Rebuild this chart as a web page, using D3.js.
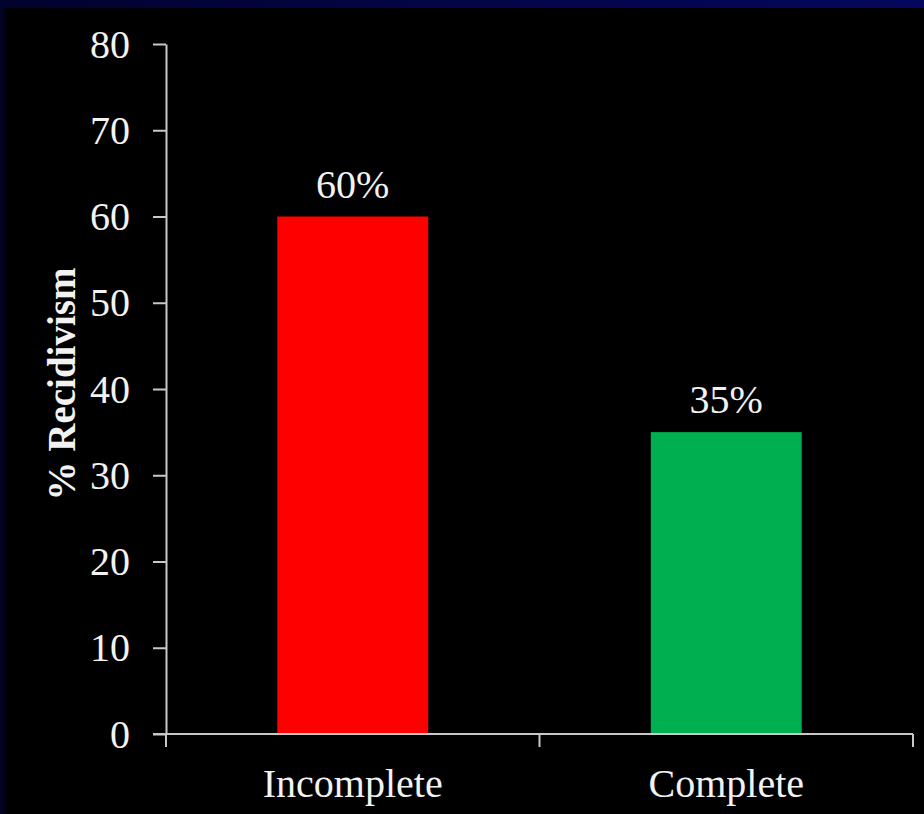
<!DOCTYPE html>
<html>
<head>
<meta charset="utf-8">
<script src="https://cdn.jsdelivr.net/npm/d3@7"></script>
<style>
  html, body { margin: 0; padding: 0; background: #000; }
  svg { display: block; }
</style>
</head>
<body>
<script>
const categories = ["Incomplete", "Complete"];
const values = [60, 35];
const valueLabels = ["60%", "35%"];
const barColors = ["#ff0000", "#00b050"];
const yTicks = [0, 10, 20, 30, 40, 50, 60, 70, 80];
const yTitle = "% Recidivism";

(function () {
const W = 924, H = 814;
const svg = d3.select("body").append("svg").attr("width", W).attr("height", H);

const defs = svg.append("defs");
const lg = defs.append("linearGradient").attr("id", "leftBand").attr("x1", 0).attr("x2", 1);
lg.append("stop").attr("offset", 0).attr("stop-color", "#04042a");
lg.append("stop").attr("offset", 1).attr("stop-color", "#000000");
const tg = defs.append("linearGradient").attr("id", "topBand").attr("x1", 0).attr("x2", 1);
tg.append("stop").attr("offset", 0).attr("stop-color", "#02022e");
tg.append("stop").attr("offset", 1).attr("stop-color", "#05075e");

svg.append("rect").attr("width", W).attr("height", H).attr("fill", "#000");
svg.append("rect").attr("x", 0).attr("y", 0).attr("width", 9).attr("height", H).attr("fill", "url(#leftBand)");
svg.append("rect").attr("x", 0).attr("y", 0).attr("width", W).attr("height", 8).attr("fill", "url(#topBand)");

const mLeft = 166, mRight = 913, mTop = 44, mBottom = 734;
const x = d3.scaleBand().domain(categories).range([mLeft, mRight]).padding(0);
const y = d3.scaleLinear().domain([0, 80]).range([mBottom, mTop]);
const barFrac = 0.404;

const axisColor = "#c8c8c8";
const textColor = "#f2f2f2";
const font = "'Liberation Serif', 'Times New Roman', serif";

// bars
svg.selectAll(".bar").data(values).enter().append("rect")
  .attr("x", (d, i) => x(categories[i]) + x.bandwidth() * (1 - barFrac) / 2)
  .attr("width", x.bandwidth() * barFrac)
  .attr("y", d => y(d))
  .attr("height", d => y(0) - y(d))
  .attr("fill", (d, i) => barColors[i]);

// y axis
const yAxis = svg.append("g").attr("transform", `translate(${mLeft},0)`)
  .call(d3.axisLeft(y).tickValues(yTicks).tickSize(13).tickPadding(23).tickSizeOuter(0));
yAxis.select(".domain").attr("stroke", axisColor).attr("stroke-width", 2);
yAxis.selectAll(".tick line").attr("stroke", axisColor).attr("stroke-width", 2);
yAxis.selectAll(".tick text").attr("fill", textColor).attr("font-family", font).attr("font-size", 40).attr("dy", "0.33em");

// x axis: ticks at band boundaries
const xAxisG = svg.append("g").attr("transform", `translate(0,${mBottom})`);
xAxisG.append("line").attr("x1", mLeft - 13).attr("x2", mRight).attr("y1", 0).attr("y2", 0)
  .attr("stroke", axisColor).attr("stroke-width", 2);
const boundaries = categories.map(c => x(c)).concat([x(categories[categories.length - 1]) + x.bandwidth()]);
xAxisG.selectAll(".xt").data(boundaries).enter().append("line")
  .attr("x1", d => d).attr("x2", d => d).attr("y1", 0).attr("y2", 13)
  .attr("stroke", axisColor).attr("stroke-width", 2);
xAxisG.selectAll(".xl").data(categories).enter().append("text")
  .attr("x", d => x(d) + x.bandwidth() / 2)
  .attr("y", 63)
  .attr("text-anchor", "middle")
  .attr("fill", textColor).attr("font-family", font).attr("font-size", 40)
  .text(d => d);

// value labels
svg.selectAll(".vl").data(values).enter().append("text")
  .attr("x", (d, i) => x(categories[i]) + x.bandwidth() / 2)
  .attr("y", d => y(d) - 19)
  .attr("text-anchor", "middle")
  .attr("fill", textColor).attr("font-family", font).attr("font-size", 40)
  .text((d, i) => valueLabels[i]);

// y title
svg.append("text")
  .attr("transform", `translate(75,${(mTop + mBottom) / 2 - 5}) rotate(-90)`)
  .attr("text-anchor", "middle")
  .attr("fill", textColor).attr("font-family", font).attr("font-size", 39).attr("font-weight", "bold")
  .text(yTitle);
})();
</script>
</body>
</html>
